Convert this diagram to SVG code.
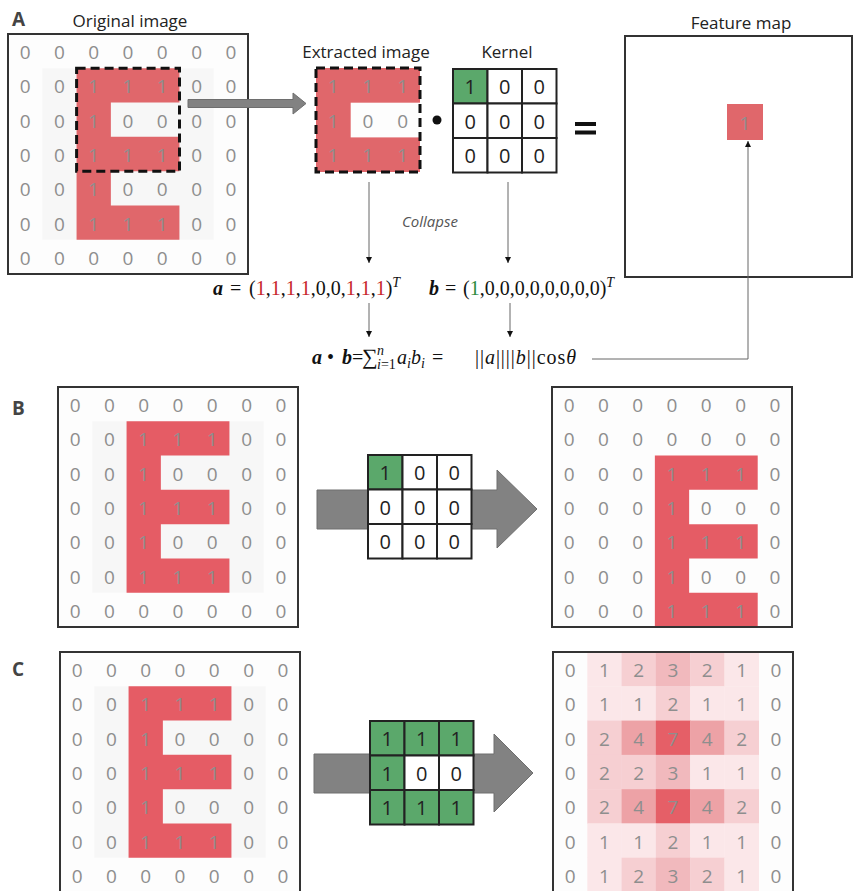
<svg xmlns="http://www.w3.org/2000/svg" width="854" height="891" viewBox="0 0 854 891">
<style>
.lbl{font-family:"Open Sans","Liberation Sans",sans-serif;font-size:17px;fill:#222;text-anchor:middle}
.pl{font-family:"Open Sans","Liberation Sans",sans-serif;font-size:19px;font-weight:700;fill:#444}
.col{font-family:"Open Sans","Liberation Sans",sans-serif;font-size:15px;font-style:italic;fill:#555;text-anchor:middle}
.d text{font-family:"Open Sans","Liberation Sans",sans-serif;font-size:19px;font-weight:400;fill:#8e8e8e;text-anchor:middle;dominant-baseline:central}
.k text{font-family:"Open Sans","Liberation Sans",sans-serif;font-size:20px;font-weight:400;fill:#222;text-anchor:middle;dominant-baseline:central}
.bg{fill:#fdfdfd}
.box{fill:none;stroke:#333;stroke-width:2}
.kc{fill:#fff;stroke:#222;stroke-width:2}
.g{fill:#5ba86b}
.dash{fill:none;stroke:#111;stroke-width:3;stroke-dasharray:9 5}
.f{font-family:"Liberation Serif","DejaVu Serif",serif;font-size:20px;fill:#111}
.bi{font-weight:700;font-style:italic}
.i{font-style:italic}
.s{font-size:14px}
.r{fill:#c8262c}
.gr{fill:#2e8b3e}
.cn{stroke:#666;stroke-width:1;fill:none}
.big{fill:#828282;stroke:#6e6e6e;stroke-width:1}
.h1{fill:#fbe7e9}.h2{fill:#f6cfd2}.h3{fill:#f1b9bd}.h4{fill:#eda2a6}.h7{fill:#e55f67}
</style>
<defs>
<marker id="ah" viewBox="0 0 8 8" refX="8" refY="4" markerWidth="6" markerHeight="7" markerUnits="userSpaceOnUse" orient="auto"><path d="M0,0 L8,4 L0,8 Z" fill="#111"/></marker>
<g id="eg">
<rect class="bg" width="240" height="240"/>
<rect x="34.29" y="34.29" width="171.43" height="171.43" fill="#f7f7f7"/>
<path d="M68.57,34.29 H171.43 V68.57 H102.86 V102.86 H171.43 V137.14 H102.86 V171.43 H171.43 V205.71 H68.57 Z"/>
<g class="d">
<g transform="translate(0,18)"><text x="17.1">0</text><text x="51.4">0</text><text x="85.7">0</text><text x="120">0</text><text x="154.3">0</text><text x="188.6">0</text><text x="222.9">0</text></g>
<g transform="translate(0,52.3)"><text x="17.1">0</text><text x="51.4">0</text><text x="85.7">1</text><text x="120">1</text><text x="154.3">1</text><text x="188.6">0</text><text x="222.9">0</text></g>
<g transform="translate(0,86.6)"><text x="17.1">0</text><text x="51.4">0</text><text x="85.7">1</text><text x="120">0</text><text x="154.3">0</text><text x="188.6">0</text><text x="222.9">0</text></g>
<g transform="translate(0,120.9)"><text x="17.1">0</text><text x="51.4">0</text><text x="85.7">1</text><text x="120">1</text><text x="154.3">1</text><text x="188.6">0</text><text x="222.9">0</text></g>
<g transform="translate(0,155.2)"><text x="17.1">0</text><text x="51.4">0</text><text x="85.7">1</text><text x="120">0</text><text x="154.3">0</text><text x="188.6">0</text><text x="222.9">0</text></g>
<g transform="translate(0,189.5)"><text x="17.1">0</text><text x="51.4">0</text><text x="85.7">1</text><text x="120">1</text><text x="154.3">1</text><text x="188.6">0</text><text x="222.9">0</text></g>
<g transform="translate(0,223.8)"><text x="17.1">0</text><text x="51.4">0</text><text x="85.7">0</text><text x="120">0</text><text x="154.3">0</text><text x="188.6">0</text><text x="222.9">0</text></g>
</g>
<rect class="box" width="240" height="240"/>
</g>
</defs>

<!-- Panel labels -->
<text class="pl" x="12" y="26">A</text>
<text class="pl" x="12" y="415">B</text>
<text class="pl" x="12" y="676">C</text>

<!-- Panel A -->
<g id="a-original">
<text class="lbl" x="130" y="27">Original image</text>
<use href="#eg" x="8" y="34" fill="#e0676b"/>
<rect class="dash" x="76.6" y="68.3" width="102.9" height="102.9"/>
</g>

<g id="a-shift-arrow">
<path class="big" d="M188,99.5 H293 V93 L306,103.5 L293,114 V107.5 H188 Z" fill="#888" stroke="#555"/>
</g>

<g id="a-extracted">
<text class="lbl" x="366" y="58">Extracted image</text>
<rect x="316" y="68" width="104" height="104" fill="#e0676b"/>
<rect x="350.7" y="102.7" width="69.3" height="34.7" fill="#fdfdfd"/>
<g class="d" transform="translate(316,68)">
<g transform="translate(0,18)"><text x="17.3">1</text><text x="52">1</text><text x="86.7">1</text></g>
<g transform="translate(0,52.7)"><text x="17.3">1</text><text x="52">0</text><text x="86.7">0</text></g>
<g transform="translate(0,87.4)"><text x="17.3">1</text><text x="52">1</text><text x="86.7">1</text></g>
</g>
<rect class="dash" x="316" y="68" width="104" height="104"/>
</g>

<g id="a-dot"><circle cx="437" cy="120" r="4.5" fill="#111"/></g>

<g id="a-kernel">
<text class="lbl" x="507" y="58">Kernel</text>
<g class="k" transform="translate(453,69)">
<rect class="kc g" x="0" y="0" width="34.5" height="34.5"/><rect class="kc" x="34.5" y="0" width="34.5" height="34.5"/><rect class="kc" x="69" y="0" width="34.5" height="34.5"/>
<rect class="kc" x="0" y="34.5" width="34.5" height="34.5"/><rect class="kc" x="34.5" y="34.5" width="34.5" height="34.5"/><rect class="kc" x="69" y="34.5" width="34.5" height="34.5"/>
<rect class="kc" x="0" y="69" width="34.5" height="34.5"/><rect class="kc" x="34.5" y="69" width="34.5" height="34.5"/><rect class="kc" x="69" y="69" width="34.5" height="34.5"/>
<g transform="translate(0,17.8)"><text x="17.25">1</text><text x="51.75">0</text><text x="86.25">0</text></g>
<g transform="translate(0,52.3)"><text x="17.25">0</text><text x="51.75">0</text><text x="86.25">0</text></g>
<g transform="translate(0,86.8)"><text x="17.25">0</text><text x="51.75">0</text><text x="86.25">0</text></g>
</g>
</g>

<g id="a-equals">
<rect x="575" y="122" width="21" height="4" fill="#111"/>
<rect x="575" y="130.5" width="21" height="4" fill="#111"/>
</g>

<g id="a-feature-map">
<text class="lbl" x="741" y="29">Feature map</text>
<rect x="625" y="36" width="227" height="241" fill="#fff" class="box"/>
<rect x="727" y="104" width="36" height="36" fill="#e0676b"/>
<g class="d"><text x="745" y="122.5">1</text></g>
</g>

<text class="col" x="430" y="227">Collapse</text>

<g id="a-formula-a">
<text class="f" y="295"><tspan x="213" class="bi">a</tspan><tspan x="230">=</tspan><tspan x="249">(</tspan><tspan class="r">1</tspan>,<tspan class="r">1</tspan>,<tspan class="r">1</tspan>,<tspan class="r">1</tspan>,0,0,<tspan class="r">1</tspan>,<tspan class="r">1</tspan>,<tspan class="r">1</tspan>)<tspan class="i s" dy="-8">T</tspan></text>
</g>
<g id="a-formula-b">
<text class="f" y="295"><tspan x="429" class="bi">b</tspan><tspan x="445">=</tspan><tspan x="463">(</tspan><tspan class="gr">1</tspan>,0,0,0,0,0,0,0,0)<tspan class="i s" dy="-8">T</tspan></text>
</g>
<g id="a-formula-dot">
<text class="f" y="364"><tspan x="312" class="bi">a</tspan><tspan x="327">•</tspan><tspan x="342" class="bi">b</tspan><tspan>=</tspan><tspan x="362" font-size="22">∑</tspan><tspan x="377" dy="-9" class="i s">n</tspan><tspan x="377" dy="14" class="i s">i</tspan><tspan class="s">=1</tspan><tspan x="397" dy="-5" class="i">a</tspan><tspan dy="4" class="i s">i</tspan><tspan dy="-4" class="i">b</tspan><tspan dy="4" class="i s">i</tspan><tspan x="432" dy="-4">=</tspan></text>
<text class="f" x="475" y="364" textLength="101" lengthAdjust="spacing">||<tspan class="i">a</tspan>||||<tspan class="i">b</tspan>||cos<tspan class="i">θ</tspan></text>
</g>

<!-- Panel B -->
<g id="b-input"><use href="#eg" x="58" y="387" fill="#e55c65"/></g>

<g id="b-arrow"><path class="big" d="M317,490 H497 V470 L537,509 L497,548 V529 H317 Z"/></g>

<g id="b-kernel" class="k" transform="translate(368,455)">
<rect class="kc g" x="0" y="0" width="34.5" height="34.5"/><rect class="kc" x="34.5" y="0" width="34.5" height="34.5"/><rect class="kc" x="69" y="0" width="34.5" height="34.5"/>
<rect class="kc" x="0" y="34.5" width="34.5" height="34.5"/><rect class="kc" x="34.5" y="34.5" width="34.5" height="34.5"/><rect class="kc" x="69" y="34.5" width="34.5" height="34.5"/>
<rect class="kc" x="0" y="69" width="34.5" height="34.5"/><rect class="kc" x="34.5" y="69" width="34.5" height="34.5"/><rect class="kc" x="69" y="69" width="34.5" height="34.5"/>
<g transform="translate(0,17.8)"><text x="17.25">1</text><text x="51.75">0</text><text x="86.25">0</text></g>
<g transform="translate(0,52.3)"><text x="17.25">0</text><text x="51.75">0</text><text x="86.25">0</text></g>
<g transform="translate(0,86.8)"><text x="17.25">0</text><text x="51.75">0</text><text x="86.25">0</text></g>
</g>

<g id="b-output" transform="translate(552,387)">
<rect class="bg" width="240" height="240"/>
<path d="M102.86,68.57 H205.71 V102.86 H137.14 V137.14 H205.71 V171.43 H137.14 V205.71 H205.71 V240 H102.86 Z" fill="#e55c65"/>
<g class="d">
<g transform="translate(0,18)"><text x="17.1">0</text><text x="51.4">0</text><text x="85.7">0</text><text x="120">0</text><text x="154.3">0</text><text x="188.6">0</text><text x="222.9">0</text></g>
<g transform="translate(0,52.3)"><text x="17.1">0</text><text x="51.4">0</text><text x="85.7">0</text><text x="120">0</text><text x="154.3">0</text><text x="188.6">0</text><text x="222.9">0</text></g>
<g transform="translate(0,86.6)"><text x="17.1">0</text><text x="51.4">0</text><text x="85.7">0</text><text x="120">1</text><text x="154.3">1</text><text x="188.6">1</text><text x="222.9">0</text></g>
<g transform="translate(0,120.9)"><text x="17.1">0</text><text x="51.4">0</text><text x="85.7">0</text><text x="120">1</text><text x="154.3">0</text><text x="188.6">0</text><text x="222.9">0</text></g>
<g transform="translate(0,155.2)"><text x="17.1">0</text><text x="51.4">0</text><text x="85.7">0</text><text x="120">1</text><text x="154.3">1</text><text x="188.6">1</text><text x="222.9">0</text></g>
<g transform="translate(0,189.5)"><text x="17.1">0</text><text x="51.4">0</text><text x="85.7">0</text><text x="120">1</text><text x="154.3">0</text><text x="188.6">0</text><text x="222.9">0</text></g>
<g transform="translate(0,223.8)"><text x="17.1">0</text><text x="51.4">0</text><text x="85.7">0</text><text x="120">1</text><text x="154.3">1</text><text x="188.6">1</text><text x="222.9">0</text></g>
</g>
<rect class="box" width="240" height="240"/>
</g>

<!-- Panel C -->
<g id="c-input"><use href="#eg" x="60" y="652" fill="#e55c65"/></g>

<g id="c-arrow"><path class="big" d="M314,754 H494 V734 L533,773 L494,812 V793 H314 Z"/></g>

<g id="c-kernel" class="k" transform="translate(370,721)">
<rect class="kc g" x="0" y="0" width="34.5" height="34.5"/><rect class="kc g" x="34.5" y="0" width="34.5" height="34.5"/><rect class="kc g" x="69" y="0" width="34.5" height="34.5"/>
<rect class="kc g" x="0" y="34.5" width="34.5" height="34.5"/><rect class="kc" x="34.5" y="34.5" width="34.5" height="34.5"/><rect class="kc" x="69" y="34.5" width="34.5" height="34.5"/>
<rect class="kc g" x="0" y="69" width="34.5" height="34.5"/><rect class="kc g" x="34.5" y="69" width="34.5" height="34.5"/><rect class="kc g" x="69" y="69" width="34.5" height="34.5"/>
<g transform="translate(0,17.8)"><text x="17.25">1</text><text x="51.75">1</text><text x="86.25">1</text></g>
<g transform="translate(0,52.3)"><text x="17.25">1</text><text x="51.75">0</text><text x="86.25">0</text></g>
<g transform="translate(0,86.8)"><text x="17.25">1</text><text x="51.75">1</text><text x="86.25">1</text></g>
</g>

<g id="c-output" transform="translate(553,652)">
<rect class="bg" width="240" height="240"/>
<g>
<rect class="h1" x="34.29" y="0" width="34.6" height="34.6"/><rect class="h2" x="68.57" y="0" width="34.6" height="34.6"/><rect class="h3" x="102.86" y="0" width="34.6" height="34.6"/><rect class="h2" x="137.14" y="0" width="34.6" height="34.6"/><rect class="h1" x="171.43" y="0" width="34.6" height="34.6"/>
<rect class="h1" x="34.29" y="34.29" width="34.6" height="34.6"/><rect class="h1" x="68.57" y="34.29" width="34.6" height="34.6"/><rect class="h2" x="102.86" y="34.29" width="34.6" height="34.6"/><rect class="h1" x="137.14" y="34.29" width="34.6" height="34.6"/><rect class="h1" x="171.43" y="34.29" width="34.6" height="34.6"/>
<rect class="h2" x="34.29" y="68.57" width="34.6" height="34.6"/><rect class="h4" x="68.57" y="68.57" width="34.6" height="34.6"/><rect class="h7" x="102.86" y="68.57" width="34.6" height="34.6"/><rect class="h4" x="137.14" y="68.57" width="34.6" height="34.6"/><rect class="h2" x="171.43" y="68.57" width="34.6" height="34.6"/>
<rect class="h2" x="34.29" y="102.86" width="34.6" height="34.6"/><rect class="h2" x="68.57" y="102.86" width="34.6" height="34.6"/><rect class="h3" x="102.86" y="102.86" width="34.6" height="34.6"/><rect class="h1" x="137.14" y="102.86" width="34.6" height="34.6"/><rect class="h1" x="171.43" y="102.86" width="34.6" height="34.6"/>
<rect class="h2" x="34.29" y="137.14" width="34.6" height="34.6"/><rect class="h4" x="68.57" y="137.14" width="34.6" height="34.6"/><rect class="h7" x="102.86" y="137.14" width="34.6" height="34.6"/><rect class="h4" x="137.14" y="137.14" width="34.6" height="34.6"/><rect class="h2" x="171.43" y="137.14" width="34.6" height="34.6"/>
<rect class="h1" x="34.29" y="171.43" width="34.6" height="34.6"/><rect class="h1" x="68.57" y="171.43" width="34.6" height="34.6"/><rect class="h2" x="102.86" y="171.43" width="34.6" height="34.6"/><rect class="h1" x="137.14" y="171.43" width="34.6" height="34.6"/><rect class="h1" x="171.43" y="171.43" width="34.6" height="34.6"/>
<rect class="h1" x="34.29" y="205.71" width="34.6" height="34.3"/><rect class="h2" x="68.57" y="205.71" width="34.6" height="34.3"/><rect class="h3" x="102.86" y="205.71" width="34.6" height="34.3"/><rect class="h2" x="137.14" y="205.71" width="34.6" height="34.3"/><rect class="h1" x="171.43" y="205.71" width="34.6" height="34.3"/>
</g>
<g class="d">
<g transform="translate(0,18)"><text x="17.1">0</text><text x="51.4">1</text><text x="85.7">2</text><text x="120">3</text><text x="154.3">2</text><text x="188.6">1</text><text x="222.9">0</text></g>
<g transform="translate(0,52.3)"><text x="17.1">0</text><text x="51.4">1</text><text x="85.7">1</text><text x="120">2</text><text x="154.3">1</text><text x="188.6">1</text><text x="222.9">0</text></g>
<g transform="translate(0,86.6)"><text x="17.1">0</text><text x="51.4">2</text><text x="85.7">4</text><text x="120">7</text><text x="154.3">4</text><text x="188.6">2</text><text x="222.9">0</text></g>
<g transform="translate(0,120.9)"><text x="17.1">0</text><text x="51.4">2</text><text x="85.7">2</text><text x="120">3</text><text x="154.3">1</text><text x="188.6">1</text><text x="222.9">0</text></g>
<g transform="translate(0,155.2)"><text x="17.1">0</text><text x="51.4">2</text><text x="85.7">4</text><text x="120">7</text><text x="154.3">4</text><text x="188.6">2</text><text x="222.9">0</text></g>
<g transform="translate(0,189.5)"><text x="17.1">0</text><text x="51.4">1</text><text x="85.7">1</text><text x="120">2</text><text x="154.3">1</text><text x="188.6">1</text><text x="222.9">0</text></g>
<g transform="translate(0,223.8)"><text x="17.1">0</text><text x="51.4">1</text><text x="85.7">2</text><text x="120">3</text><text x="154.3">2</text><text x="188.6">1</text><text x="222.9">0</text></g>
</g>
<rect class="box" width="240" height="240"/>
</g>

<!-- Connectors -->
<g id="connectors">
<line class="cn" x1="369" y1="182" x2="369" y2="263" marker-end="url(#ah)"/>
<line class="cn" x1="508" y1="182" x2="508" y2="263" marker-end="url(#ah)"/>
<line class="cn" x1="369" y1="303" x2="369" y2="337" marker-end="url(#ah)"/>
<line class="cn" x1="510" y1="303" x2="510" y2="337" marker-end="url(#ah)"/>
<polyline class="cn" points="592,359 748,359 748,141" marker-end="url(#ah)"/>
</g>
</svg>
